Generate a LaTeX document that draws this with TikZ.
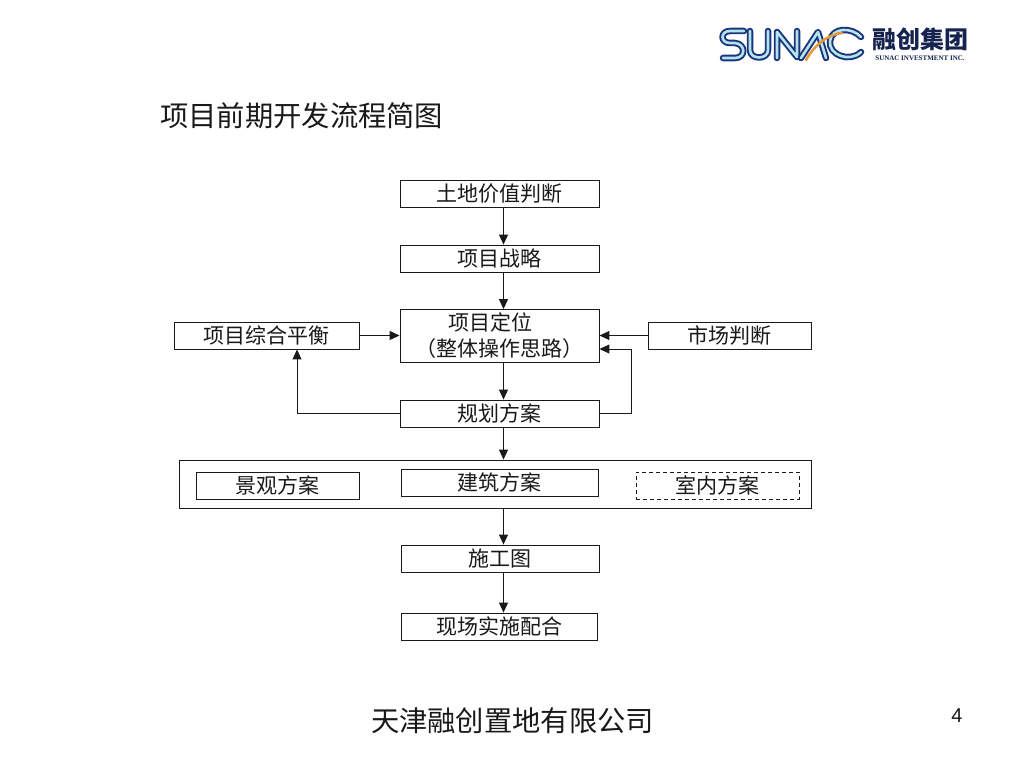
\documentclass[tikz,border=0pt]{standalone}
\usepackage{fontspec}
\setmainfont{Liberation Sans}
\newfontfamily\cjk{Noto Sans CJK SC}
\newfontfamily\logoserif{Liberation Serif}
\usetikzlibrary{arrows.meta}
\definecolor{logoblue}{HTML}{1A3580}
\definecolor{logocyan}{HTML}{B5E3E6}
\definecolor{logoorange}{HTML}{E8963A}
\definecolor{logotext}{HTML}{17234F}
\tikzset{
  flow/.style={draw=black!90,line width=0.9pt,fill=white,inner sep=0pt,font=\cjk\fontsize{21}{26}\selectfont,text=black!90},
  link/.style={draw=black!90,line width=0.95pt,-{Triangle[length=10pt,width=9pt]}},
  logoout/.style={draw=logoblue,line width=6.5pt,line cap=round,line join=round},
  logoin/.style={draw=logocyan,line width=2.6pt,line cap=round,line join=round},
}
\newcommand{\boxat}[6][]{\node[flow,#1,minimum width=#5pt,minimum height=#6pt] (#2) at (#3,#4)}
\newcommand{\logostroke}[1]{\draw[logoout] #1; \draw[logoin] #1;}
\begin{document}
\begin{tikzpicture}[x=1pt,y=-1pt]
\useasboundingbox[fill=white] (0,0) rectangle (1024,768);
% logo
\logostroke{(744,31) -- (730,31) .. controls (720,31) and (720,43) .. (730,43) -- (735,43) .. controls (746,44) and (746,58) .. (735,58) -- (723,58)}
\logostroke{(750,31) -- (750,50) .. controls (750,60) and (768,60) .. (768,50) -- (768,31)}
\logostroke{(777,58) -- (777,32) -- (797,57) -- (797,31)}
\logostroke{(801,58) -- (818,32) -- (826,58)}
\logostroke{(861,37) .. controls (852,27) and (832,27) .. (830,41) .. controls (828,55) and (850,63) .. (861,52)}
\draw[logoorange,line width=2.5pt,line cap=round] (806,60) .. controls (814,46) and (826,35) .. (842,33);
\node[inner sep=0pt,text=logotext,font=\cjk\bfseries\fontsize{24}{24}\selectfont] (logocn) at (920,39) {融创集团};
\node[inner sep=0pt,text=logotext,font=\logoserif\bfseries\fontsize{7}{8}\selectfont] (logoen) at (920,58) {SUNAC INVESTMENT INC.};
% title
\node[anchor=west,inner sep=0pt,font=\cjk\fontsize{28.3}{30}\selectfont,text=black!90] (title) at (160,116) {项目前期开发流程简图};
% big frame
\node[draw=black!90,line width=0.9pt,inner sep=0pt,minimum width=632pt,minimum height=48pt] (frame) at (495,484) {};
% boxes
\boxat{land}{499.5}{193.5}{199}{27} {土地价值判断};
\boxat{strat}{499.5}{258.5}{199}{27} {项目战略};
\boxat[align=left]{pos}{499.5}{336}{199}{53} {\hspace{33pt}项目定位\\（整体操作思路）};
\boxat{bal}{266.5}{335.5}{185}{27} {项目综合平衡};
\boxat{market}{729.5}{335.5}{163}{27} {市场判断};
\boxat{plan}{499.5}{413.5}{199}{27} {规划方案};
\boxat{land2}{277.5}{485.5}{163}{27} {景观方案};
\boxat{arch}{499.5}{482.5}{197}{27} {建筑方案};
\boxat[dash pattern=on 4pt off 3pt]{inner}{717.5}{485.5}{163}{27} {室内方案};
\boxat{draw}{500}{558.5}{198}{27} {施工图};
\boxat{site}{499}{626.5}{196}{27} {现场实施配合};
% connectors
\coordinate (trunk) at (503.5,0);
\coordinate (leftrun) at (297,0);
\coordinate (rightrun) at (631,349);
\draw[link] (land.south -| trunk) -- (strat.north -| trunk);
\draw[link] (strat.south -| trunk) -- (pos.north -| trunk);
\draw[link] (pos.south -| trunk) -- (plan.north -| trunk);
\draw[link] (plan.south -| trunk) -- (frame.north -| trunk);
\draw[link] (frame.south -| trunk) -- (draw.north -| trunk);
\draw[link] (draw.south -| trunk) -- (site.north -| trunk);
\draw[link] (bal.east) -- (pos.west |- bal.east);
\draw[link] (market.west) -- (pos.east |- market.west);
\draw[link] (plan.west) -- (plan.west -| leftrun) -- (bal.south -| leftrun);
\draw[link] (plan.east) -- (plan.east -| rightrun) -- (rightrun) -- (pos.east |- rightrun);
% footer
\node[inner sep=0pt,font=\cjk\fontsize{28.3}{30}\selectfont,text=black!90] (foot) at (512.5,721) {天津融创置地有限公司};
\node[inner sep=0pt,font=\fontsize{20}{22}\selectfont,text=black!90] (pnum) at (957,716) {4};
\end{tikzpicture}
\end{document}
